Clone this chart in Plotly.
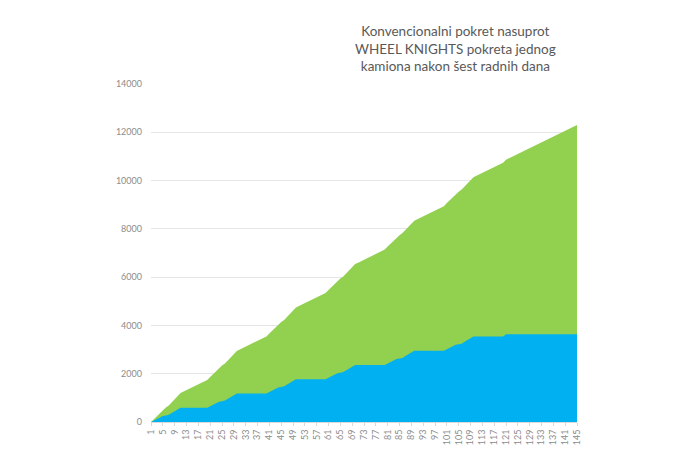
import plotly.graph_objects as go

categories = list(range(1, 146))

conventional = [
    0, 128, 256, 384, 512, 600, 688, 816, 944, 1072, 1200,
    1260, 1320, 1380, 1440, 1500, 1560, 1620, 1680, 1740,
    1868, 1996, 2124, 2252, 2340, 2428, 2556, 2684, 2812, 2940,
    3000, 3060, 3120, 3180, 3240, 3300, 3360, 3420, 3480, 3540,
    3668, 3796, 3924, 4052, 4140, 4228, 4356, 4484, 4612, 4740,
    4800, 4860, 4920, 4980, 5040, 5100, 5160, 5220, 5280, 5340,
    5468, 5596, 5724, 5852, 5940, 6028, 6156, 6284, 6412, 6540,
    6600, 6660, 6720, 6780, 6840, 6900, 6960, 7020, 7080, 7140,
    7268, 7396, 7524, 7652, 7740, 7828, 7956, 8084, 8212, 8340,
    8400, 8460, 8520, 8580, 8640, 8700, 8760, 8820, 8880, 8940,
    9068, 9196, 9324, 9452, 9540, 9628, 9756, 9884, 10012, 10140,
    10200, 10260, 10320, 10380, 10440, 10500, 10560, 10620, 10680, 10740,
    10860,
    10920, 10980, 11040, 11100, 11160, 11220, 11280, 11340, 11400, 11460,
    11520, 11580, 11640, 11700, 11760, 11820, 11880, 11940, 12000, 12060,
    12120, 12180, 12240, 12300,
]

wheel_knights = [
    0, 63, 126, 189, 252, 274, 296, 369, 442, 516, 590,
    590, 590, 590, 590, 590, 590, 590, 590, 590,
    653, 716, 779, 842, 864, 886, 959, 1032, 1106, 1180,
    1180, 1180, 1180, 1180, 1180, 1180, 1180, 1180, 1180, 1180,
    1243, 1306, 1369, 1432, 1454, 1476, 1549, 1622, 1696, 1770,
    1770, 1770, 1770, 1770, 1770, 1770, 1770, 1770, 1770, 1770,
    1833, 1896, 1959, 2022, 2044, 2066, 2139, 2212, 2286, 2360,
    2360, 2360, 2360, 2360, 2360, 2360, 2360, 2360, 2360, 2360,
    2423, 2486, 2549, 2612, 2634, 2656, 2729, 2802, 2876, 2950,
    2950, 2950, 2950, 2950, 2950, 2950, 2950, 2950, 2950, 2950,
    3013, 3076, 3139, 3202, 3224, 3246, 3319, 3392, 3466, 3540,
    3540, 3540, 3540, 3540, 3540, 3540, 3540, 3540, 3540, 3540,
    3630,
    3630, 3630, 3630, 3630, 3630, 3630, 3630, 3630, 3630, 3630,
    3630, 3630, 3630, 3630, 3630, 3630, 3630, 3630, 3630, 3630,
    3630, 3630, 3630, 3630,
]

x_tick_labels = [str(c) for c in categories[::4]]
y_ticks = [0, 2000, 4000, 6000, 8000, 10000, 12000, 14000]
y_tick_labels = ["0", "2000", "4000", "6000", "8000", "10000", "12000", "14000"]
title_lines = [
    "Konvencionalni pokret nasuprot",
    "WHEEL KNIGHTS pokreta jednog",
    "kamiona nakon šest radnih dana",
]

fig = go.Figure()
fig.add_trace(go.Scatter(
    x=categories, y=conventional, mode="lines", fill="tozeroy",
    line=dict(width=0, color="#92D050"), fillcolor="#92D050",
    name="Konvencionalni", hoverinfo="x+y",
))
fig.add_trace(go.Scatter(
    x=categories, y=wheel_knights, mode="lines", fill="tozeroy",
    line=dict(width=0, color="#00B0F0"), fillcolor="#00B0F0",
    name="WHEEL KNIGHTS", hoverinfo="x+y",
))

fig.update_layout(
    width=692, height=456,
    margin=dict(l=143, r=123, t=76, b=42),
    paper_bgcolor="white", plot_bgcolor="white",
    showlegend=False,
    font=dict(family="Lato, Open Sans, sans-serif", color="#808080"),
    xaxis=dict(
        range=[1, 145], tickmode="array",
        tickvals=categories[::4], ticktext=x_tick_labels,
        tickangle=-90, tickfont=dict(size=9, color="#8c8c8c"),
        showgrid=False, zeroline=False,
        showline=True, linecolor="#d9d9d9", linewidth=1,
        ticks="outside", ticklen=3, tickcolor="#d9d9d9",
    ),
    yaxis=dict(
        range=[0, 14000], tickmode="array", tickvals=y_ticks,
        ticktext=y_tick_labels,
        tickfont=dict(size=9, color="#8c8c8c"),
        showgrid=True, gridcolor="#e6e6e6", gridwidth=1,
        zeroline=False, showline=False, ticks="", ticklabelstandoff=8,
    ),
    annotations=[dict(
        text="<br>".join(title_lines),
        xref="paper", yref="paper",
        x=(447 - 143) / 426, y=(414 - 13) / 338,
        xanchor="center", yanchor="top", showarrow=False, align="center",
        font=dict(family="Lato, Open Sans, sans-serif", size=13.5, color="#595959"),
    )],
)

fig.write_html("out.html")
